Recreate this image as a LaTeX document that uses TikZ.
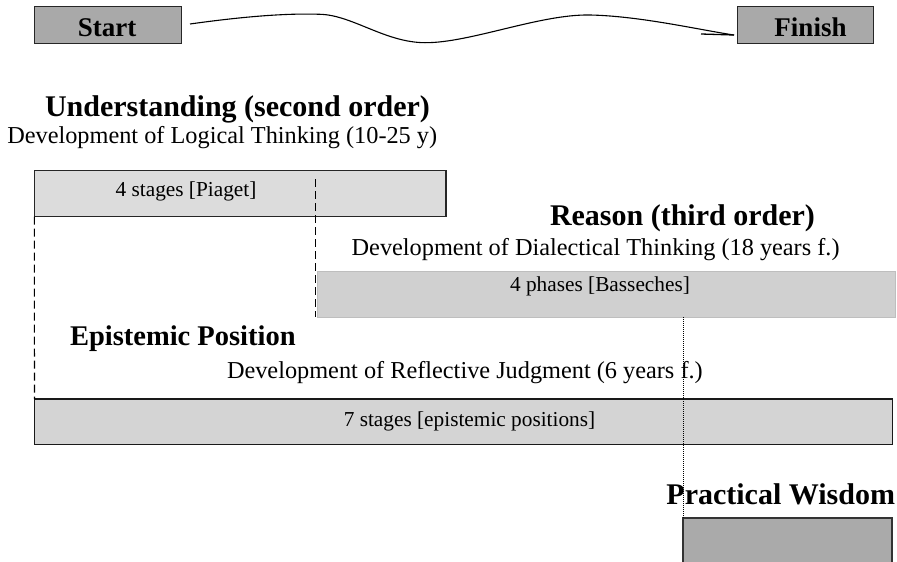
\documentclass[tikz,border=0pt]{standalone}
\usepackage{fontspec}
\setmainfont{Liberation Serif}
\definecolor{endgray}{HTML}{A9A9A9}
\definecolor{piagetgray}{HTML}{DCDCDC}
\definecolor{phasegray}{HTML}{D0D0D0}
\definecolor{phaseline}{HTML}{BEBEBE}
\definecolor{stagegray}{HTML}{D4D4D4}
\definecolor{wisdomgray}{HTML}{AAAAAA}
\begin{document}
\begin{tikzpicture}[x=1pt,y=-1pt,
  every node/.style={inner sep=0pt, outer sep=0pt},
  endbox/.style={rectangle, draw=black!85, fill=endgray, line width=1.3pt},
  endlabel/.style={anchor=base, font=\fontsize{27}{30}\selectfont\bfseries},
  heading/.style={anchor=base west, font=\fontsize{30}{34}\selectfont\bfseries},
  subline/.style={anchor=base west, font=\fontsize{24.3}{28}\selectfont},
  boxtext/.style={font=\fontsize{21.3}{25}\selectfont},
  spanbox/.style={rectangle, line width=1.3pt},
  guide/.style={line width=1.1pt, dash pattern=on 8pt off 4pt},
  dotguide/.style={line width=0.9pt, dash pattern=on 1pt off 1pt}]
\useasboundingbox (0,0) rectangle (897,562);

% start and finish
\node[endbox, minimum width=147.4pt, minimum height=36.6pt] (start) at (108,25) {};
\node[endlabel] (startlabel) at (107,36.7) {Start};
\node[endbox, minimum width=136pt, minimum height=36.6pt] (finish) at (805.7,25) {};
\node[endlabel] (finishlabel) at (810.5,36.7) {Finish};

% winding road between them
\coordinate (road0) at (190,24);
\coordinate (road1) at (734,35);
\coordinate (hook) at (701,34);
\draw[line width=1.1pt] (road0) .. controls (240,17) and (285,13) .. (320,14.3)
  .. controls (352,15) and (385,42.5) .. (425,42.7)
  .. controls (470,43) and (540,14) .. (590,15)
  .. controls (640,16) and (700,30) .. (road1);
\draw[line width=1.3pt] (hook) -- (road1);

% understanding
\node[heading] (understanding) at (45,116.7) {Understanding (second order)};
\node[subline] (logical) at (7.3,143) {Development of Logical Thinking (10-25 y)};
\node[spanbox, draw=black!85, fill=piagetgray, minimum width=411.7pt, minimum height=46pt] (piaget) at (240.15,193.7) {};
\node[boxtext] (piagetlabel) at (186,191) {4 stages [Piaget]};

% reason
\node[heading] (reason) at (550,225) {Reason (third order)};
\node[subline] (dialectical) at (351.7,255) {Development of Dialectical Thinking (18 years f.)};
\node[spanbox, draw=phaseline, line width=0.8pt, fill=phasegray, minimum width=578pt, minimum height=45.8pt] (bass) at (606,294.4) {};
\node[boxtext] (basslabel) at (600,286) {4 phases [Basseches]};

% epistemic position
\node[heading, font=\fontsize{28.5}{32}\selectfont\bfseries] (epistemic) at (70,345) {Epistemic Position};
\node[subline] (reflective) at (227,378) {Development of Reflective Judgment (6 years f.)};
\node[spanbox, draw=black!90, fill=stagegray, minimum width=858pt, minimum height=45.5pt] (seven) at (463.5,421.75) {};
\node[boxtext] (sevenlabel) at (469.5,421.7) {7 stages [epistemic positions]};

% practical wisdom
\node[heading, anchor=base east] (wisdom) at (895,504) {Practical Wisdom};
\node[spanbox, draw=black!80, fill=wisdomgray, minimum width=209pt, minimum height=60pt] (prac) at (787.5,548) {};

% guides between the stages
\coordinate (pmark) at (315.5,179);
\draw[guide] (piaget.south west) -- (seven.north west);
\draw[guide] (pmark) -- (pmark |- bass.south);
\draw[dotguide] (prac.north west |- bass.south) -- (prac.north west);
\end{tikzpicture}
\end{document}
